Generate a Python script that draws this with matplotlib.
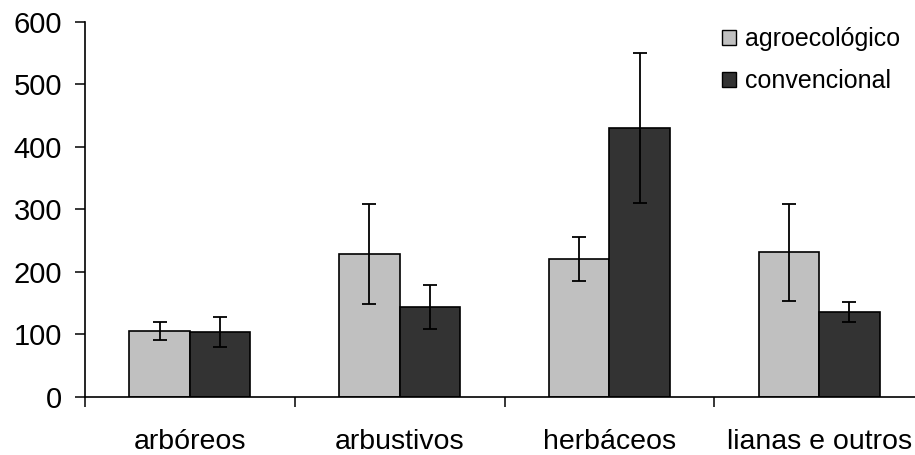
import matplotlib
matplotlib.use("Agg")
import matplotlib.pyplot as plt
import numpy as np
from matplotlib.patches import Patch

categories = ["arbóreos", "arbustivos", "herbáceos", "lianas e outros"]
series_names = ["agroecológico", "convencional"]
agro_values = [105, 228, 221, 231]
agro_errors = [14, 80, 35, 78]
conv_values = [103, 144, 430, 135]
conv_errors = [24, 35, 120, 16]
y_ticks = [0, 100, 200, 300, 400, 500, 600]

colors = ["#C0C0C0", "#333333"]

plt.rcParams['font.family'] = ['Liberation Sans', 'DejaVu Sans']

fig = plt.figure(figsize=(9.15, 4.55), dpi=100)
ax = fig.add_axes([85/915, (455-396.7)/455, 839/915, (396.7-22)/455])

x = np.arange(len(categories))
w = 0.288
for vals, errs, col, off in [(agro_values, agro_errors, colors[0], -w/2),
                             (conv_values, conv_errors, colors[1], w/2)]:
    ax.bar(x + off, vals, width=w, color=col, edgecolor="black", linewidth=1.2, zorder=2)
    ax.errorbar(x + off, vals, yerr=errs, fmt='none', ecolor='black',
                elinewidth=1.3, capsize=5, capthick=1.3, zorder=3)

ax.set_xlim(-0.5, len(categories) - 0.5)
ax.set_ylim(0, 600)
ax.set_yticks(y_ticks)
ax.set_xticks(x)
ax.set_xticklabels(categories)
ax.set_xticks(np.arange(len(categories) + 1) - 0.5, minor=True)

for s in ["top", "right"]:
    ax.spines[s].set_visible(False)
for s in ["left", "bottom"]:
    ax.spines[s].set_linewidth(1.2)

ax.tick_params(axis='y', which='major', direction='out', length=7.5, width=1.1,
               labelsize=21, pad=9)
ax.tick_params(axis='x', which='major', length=0, labelsize=20.5, pad=23)
ax.tick_params(axis='x', which='minor', direction='out', length=7.5, width=1.1)

handles = [Patch(facecolor=colors[0], edgecolor='black', linewidth=1.0),
           Patch(facecolor=colors[1], edgecolor='black', linewidth=1.0)]
fig.legend(handles, series_names, loc='upper left',
           bbox_to_anchor=(722/915, 1 - 27/455), frameon=False, fontsize=18,
           handlelength=0.55, handleheight=0.55, handletextpad=0.35,
           labelspacing=0.72, borderpad=0, borderaxespad=0)

fig.savefig("out.png", dpi=100)
